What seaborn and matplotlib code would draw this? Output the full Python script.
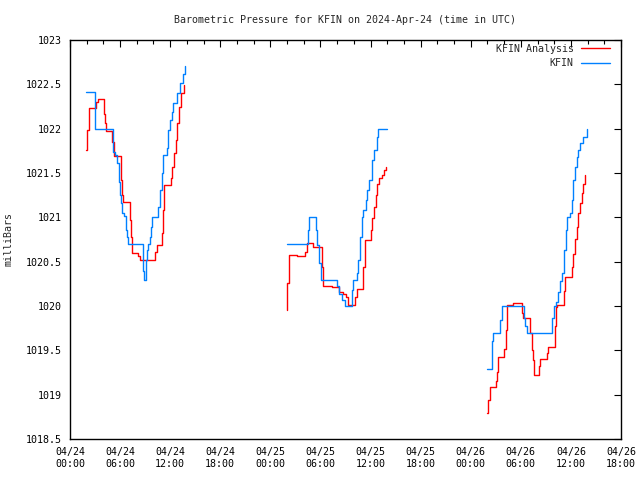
import matplotlib
matplotlib.use("Agg")
import matplotlib.pyplot as plt
import matplotlib.dates as mdates
import seaborn as sns
import pandas as pd

# hours after 2024-04-24 00:00 UTC, pressure in millibars
blue1_t = [1.92, 2.95, 3.05, 5.19, 5.39, 5.67, 5.87, 5.99, 6.11, 6.27, 6.50, 6.67, 6.83, 6.98,
           8.78, 8.90, 9.07, 9.19, 9.38, 9.58, 9.70, 9.86, 10.58, 10.78, 10.98, 11.18, 11.58,
           11.78, 11.98, 12.18, 12.37, 12.78, 13.18, 13.57, 13.81]
blue1_v = [1022.41, 1022.2, 1022.0, 1021.74, 1021.70, 1021.61, 1021.40, 1021.25, 1021.16, 1021.05,
           1021.01, 1020.86, 1020.78, 1020.70, 1020.39, 1020.29, 1020.52, 1020.63, 1020.70, 1020.78,
           1020.89, 1021.0, 1021.12, 1021.31, 1021.50, 1021.70, 1021.78, 1021.99, 1022.10, 1022.19,
           1022.29, 1022.40, 1022.51, 1022.62, 1022.71]
red1_t = [1.92, 2.07, 2.28, 3.08, 3.32, 4.11, 4.19, 4.28, 5.07, 5.27, 6.07, 6.27, 6.31, 7.19,
          7.31, 7.39, 8.19, 8.39, 10.18, 10.39, 10.98, 11.10, 11.26, 12.06, 12.25, 12.46, 12.66,
          12.85, 13.09, 13.30, 13.66]
red1_v = [1021.76, 1021.99, 1022.23, 1022.30, 1022.34, 1022.17, 1022.06, 1021.97, 1021.85, 1021.69,
          1021.42, 1021.25, 1021.17, 1020.97, 1020.78, 1020.60, 1020.56, 1020.52, 1020.61, 1020.69,
          1020.82, 1021.08, 1021.36, 1021.44, 1021.57, 1021.72, 1021.87, 1022.06, 1022.25, 1022.40,
          1022.49]

blue2_t = [25.96, 28.55, 28.67, 29.43, 29.62, 29.83, 30.03, 31.95, 32.26, 32.55, 32.94, 33.74,
           33.94, 34.34, 34.54, 34.74, 34.94, 35.13, 35.46, 35.61, 35.85, 36.14, 36.42, 36.74,
           36.93, 37.94]
blue2_v = [1020.70, 1020.86, 1021.0, 1020.86, 1020.69, 1020.48, 1020.29, 1020.22, 1020.14, 1020.07,
           1020.0, 1020.18, 1020.29, 1020.37, 1020.52, 1020.78, 1021.0, 1021.08, 1021.20, 1021.31,
           1021.42, 1021.65, 1021.76, 1021.91, 1022.0, 1022.0]
red2_t = [25.96, 26.03, 26.27, 27.16, 28.15, 28.43, 29.15, 30.15, 30.34, 31.35, 32.26, 32.74,
          33.06, 33.34, 34.14, 34.34, 35.13, 35.34, 36.02, 36.21, 36.42, 36.66, 36.81, 37.05,
          37.34, 37.61, 37.85]
red2_v = [1019.96, 1020.26, 1020.57, 1020.56, 1020.61, 1020.71, 1020.66, 1020.44, 1020.23, 1020.21,
          1020.16, 1020.14, 1020.10, 1020.01, 1020.10, 1020.19, 1020.44, 1020.75, 1020.86, 1020.99,
          1021.12, 1021.25, 1021.38, 1021.44, 1021.48, 1021.53, 1021.57]

blue3_t = [49.99, 50.51, 50.63, 51.51, 51.71, 54.38, 54.50, 54.71, 57.77, 57.98, 58.22, 58.49,
           58.70, 58.97, 59.18, 59.38, 59.57, 59.90, 60.10, 60.29, 60.49, 60.70, 60.89, 61.09,
           61.49, 61.89]
blue3_v = [1019.29, 1019.60, 1019.69, 1019.84, 1020.0, 1019.86, 1019.77, 1019.69, 1019.86, 1020.0,
           1020.05, 1020.16, 1020.28, 1020.37, 1020.63, 1020.86, 1021.0, 1021.05, 1021.20, 1021.42,
           1021.57, 1021.68, 1021.76, 1021.84, 1021.91, 1022.0]
red3_t = [49.99, 50.11, 50.31, 51.03, 51.11, 51.31, 52.02, 52.19, 52.31, 53.10, 54.11, 54.30,
          55.10, 55.30, 55.50, 55.62, 56.14, 56.30, 57.10, 57.30, 58.10, 58.22, 58.37, 59.18,
          59.33, 60.13, 60.29, 60.49, 60.70, 60.89, 61.09, 61.30, 61.49, 61.73]
red3_v = [1018.79, 1018.94, 1019.09, 1019.15, 1019.26, 1019.42, 1019.52, 1019.73, 1020.01, 1020.03,
          1019.92, 1019.86, 1019.69, 1019.50, 1019.39, 1019.22, 1019.32, 1019.40, 1019.47, 1019.54,
          1019.77, 1019.99, 1020.01, 1020.17, 1020.33, 1020.44, 1020.59, 1020.76, 1020.89, 1021.05,
          1021.16, 1021.27, 1021.38, 1021.48]

series_names = ["KFIN Analysis", "KFIN"]
series_colors = ["#ff0000", "#0080ff"]
y_ticks = [1018.5, 1019, 1019.5, 1020, 1020.5, 1021, 1021.5, 1022, 1022.5, 1023]
y_tick_labels = ["1018.5", "1019", "1019.5", "1020", "1020.5", "1021", "1021.5", "1022", "1022.5", "1023"]
title = "Barometric Pressure for KFIN on 2024-Apr-24 (time in UTC)"
y_label = "milliBars"

start = pd.Timestamp("2024-04-24 00:00")
end = pd.Timestamp("2024-04-26 18:00")

rows = []
segs = [
    ("KFIN Analysis", 1, red1_t, red1_v), ("KFIN Analysis", 2, red2_t, red2_v), ("KFIN Analysis", 3, red3_t, red3_v),
    ("KFIN", 1, blue1_t, blue1_v), ("KFIN", 2, blue2_t, blue2_v), ("KFIN", 3, blue3_t, blue3_v),
]
for name, seg, ts, vs in segs:
    for t, v in zip(ts, vs):
        rows.append({"time": start + pd.to_timedelta(t, unit="h"), "value": v, "series": name, "segment": seg})
df = pd.DataFrame(rows)

sns.set_style("white")
plt.rcParams["font.family"] = ["DejaVu Sans Mono", "DejaVu Sans"]

fig = plt.figure(figsize=(6.4, 4.8), dpi=100)
ax = fig.add_axes([70 / 640, 41 / 480, 551 / 640, 399 / 480])

sns.lineplot(data=df, x="time", y="value", hue="series", units="segment", estimator=None,
             hue_order=series_names, palette=series_colors, drawstyle="steps-post",
             linewidth=1.0, sort=False, ax=ax)

ax.set_xlim(start, end)
ax.set_ylim(1018.5, 1023)
ax.set_yticks(y_ticks)
ax.set_yticklabels(y_tick_labels)
ax.xaxis.set_major_locator(mdates.HourLocator(byhour=[0, 6, 12, 18]))
ax.xaxis.set_minor_locator(mdates.HourLocator(interval=2))
ax.xaxis.set_major_formatter(mdates.DateFormatter("%m/%d\n%H:%M"))

ax.tick_params(axis="both", which="both", direction="in", top=True, right=True,
               labelsize=7.2, colors="black")
ax.tick_params(axis="both", which="major", length=5, width=0.8, pad=6)
ax.tick_params(axis="x", which="minor", length=3, width=0.8)
for s in ax.spines.values():
    s.set_color("black")
    s.set_linewidth(1.0)

ax.set_xlabel("")
ax.set_ylabel(y_label, fontsize=7.2, labelpad=9)
ax.set_title(title, fontsize=7.2, pad=12)

h, l = ax.get_legend_handles_labels()
ax.legend(h, l, loc="upper right", bbox_to_anchor=(0.987, 1.0), borderaxespad=0.0,
          frameon=False, markerfirst=False, fontsize=7.2,
          handlelength=2.9, labelspacing=0.45, handletextpad=0.7)

fig.savefig("out.png", dpi=100)
